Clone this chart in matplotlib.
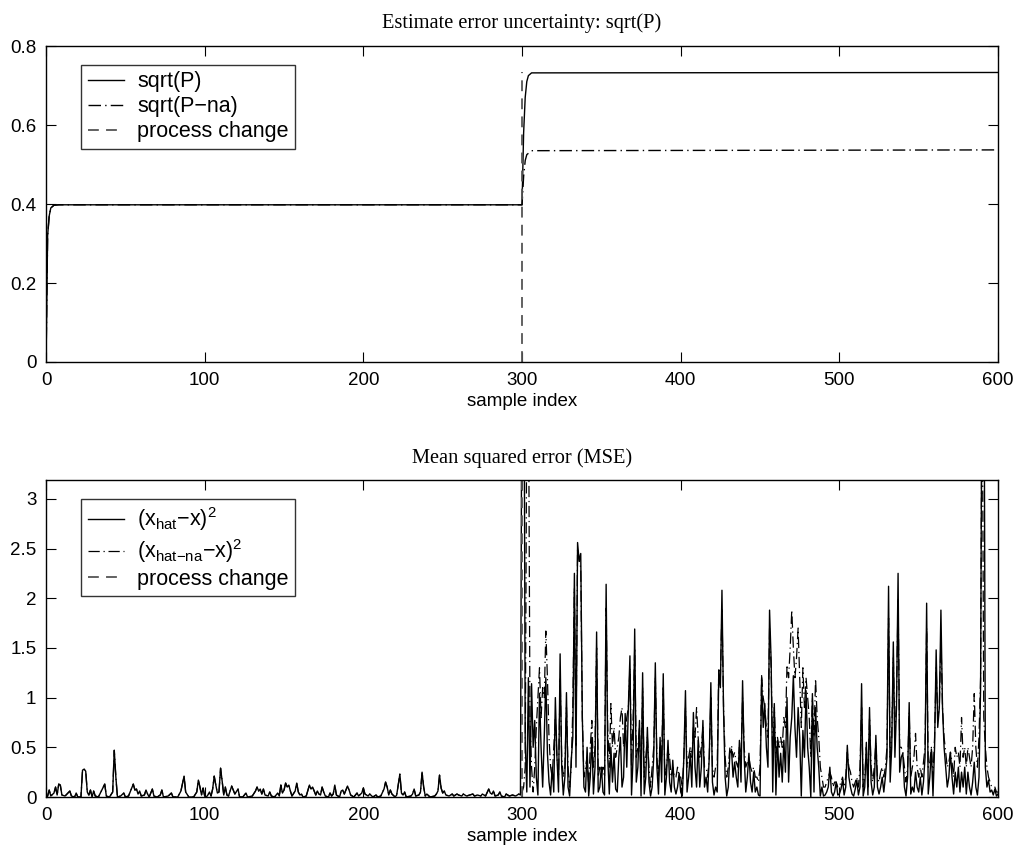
import numpy as np
import matplotlib
matplotlib.use("Agg")
import matplotlib.pyplot as plt

plt.rcParams['font.family'] = ['Liberation Sans', 'DejaVu Sans']
plt.rcParams['mathtext.default'] = 'regular'

# Top panel: sqrt(P) and sqrt(P-na), vertices
p_x = [0, 1, 2, 3, 5, 8, 300, 301, 302, 303, 304, 306, 600]
sqrt_p = [0.0, 0.32, 0.37, 0.39, 0.397, 0.398, 0.398, 0.58, 0.67, 0.71, 0.725, 0.732, 0.733]
pna_x = [0, 1, 2, 3, 5, 8, 300, 301, 302, 303, 306, 600]
sqrt_pna = [0.0, 0.32, 0.37, 0.39, 0.397, 0.398, 0.398, 0.47, 0.51, 0.525, 0.535, 0.537]
change_idx = 300
change_top = [0.735, 6.0]

# Bottom panel, samples 0..299 (both estimators coincide here)
mse_pre = [
    (0, 0), (1, 0.01), (2, 0.07), (3, 0.01), (5, 0.04), (6, 0.1), (7, 0.02), (8, 0.13), (9, 0.12),
    (10, 0.02), (12, 0.01), (15, 0.06), (16, 0.01), (18, 0.0), (19, 0.04), (20, 0.0), (22, 0.0),
    (23, 0.27), (24, 0.28), (25, 0.26), (26, 0.05), (27, 0.02), (28, 0.07), (29, 0.0), (30, 0.06),
    (31, 0.01), (33, 0.0), (37, 0.13), (38, 0.01), (40, 0.0), (42, 0.05), (43, 0.47), (44, 0.2),
    (45, 0.0), (47, 0.01), (49, 0.04), (50, 0.0), (52, 0.01), (55, 0.13), (56, 0.07), (57, 0.08),
    (58, 0.03), (59, 0.06), (60, 0.01), (62, 0.02), (63, 0.07), (64, 0.03), (65, 0.0), (67, 0.08),
    (68, 0.01), (70, 0.0), (72, 0.02), (73, 0.07), (74, 0.0), (77, 0.01), (79, 0.04), (80, 0.0),
    (83, 0.0), (85, 0.06), (87, 0.21), (88, 0.05), (90, 0.0), (93, 0.0), (95, 0.05), (96, 0.17),
    (97, 0.1), (98, 0.02), (99, 0.09), (100, 0.01), (101, 0.0), (102, 0.02), (103, 0.05), (104, 0.01),
    (105, 0.08), (106, 0.21), (107, 0.12), (108, 0.04), (109, 0.05), (110, 0.29), (111, 0.16),
    (112, 0.02), (113, 0.1), (114, 0.02), (115, 0.01), (117, 0.11), (118, 0.07), (119, 0.03),
    (121, 0.08), (122, 0.0), (124, 0.0), (126, 0.04), (127, 0.0), (130, 0.01), (132, 0.06),
    (133, 0.1), (134, 0.06), (135, 0.08), (136, 0.03), (137, 0.08), (138, 0.02), (140, 0.01),
    (141, 0.05), (142, 0.01), (144, 0.0), (146, 0.04), (147, 0.01), (148, 0.12), (149, 0.04),
    (150, 0.07), (151, 0.14), (152, 0.1), (153, 0.12), (154, 0.06), (155, 0.01), (157, 0.06),
    (158, 0.14), (159, 0.05), (160, 0.02), (161, 0.03), (162, 0.0), (164, 0.01), (166, 0.12),
    (167, 0.08), (168, 0.1), (169, 0.06), (170, 0.02), (171, 0.06), (172, 0.03), (173, 0.02),
    (174, 0.1), (175, 0.05), (176, 0.01), (178, 0.0), (179, 0.04), (180, 0.01), (181, 0.03),
    (182, 0.12), (183, 0.02), (185, 0.0), (186, 0.06), (187, 0.07), (188, 0.03), (190, 0.11),
    (191, 0.07), (192, 0.02), (194, 0.0), (196, 0.04), (197, 0.01), (199, 0.04), (200, 0.09),
    (201, 0.03), (203, 0.01), (204, 0.03), (206, 0.0), (208, 0.02), (209, 0.0), (211, 0.01),
    (213, 0.08), (214, 0.15), (215, 0.1), (216, 0.02), (217, 0.07), (218, 0.03), (220, 0.0),
    (221, 0.02), (223, 0.23), (224, 0.04), (225, 0.02), (226, 0.05), (227, 0.0), (230, 0.01),
    (231, 0.03), (232, 0.08), (233, 0.01), (235, 0.02), (236, 0.05), (237, 0.25), (238, 0.1),
    (239, 0.01), (240, 0.03), (242, 0.0), (245, 0.01), (246, 0.03), (247, 0.06), (248, 0.22),
    (249, 0.09), (250, 0.04), (251, 0.06), (252, 0.02), (254, 0.01), (256, 0.03), (257, 0.01),
    (259, 0.03), (260, 0.02), (262, 0.01), (263, 0.03), (265, 0.01), (267, 0.02), (269, 0.03),
    (270, 0.01), (272, 0.02), (274, 0.01), (275, 0.03), (277, 0.01), (279, 0.08), (280, 0.04),
    (281, 0.03), (282, 0.06), (283, 0.01), (285, 0.02), (286, 0.05), (287, 0.01), (289, 0.0),
    (290, 0.03), (292, 0.01), (294, 0.02), (296, 0.01), (298, 0.03), (299, 0.02),
]

# samples 300..600, adaptive estimator (solid)
mse_post = [
    5.0, 6.0, 0.57, 0.05, 1.2, 0.1, 1.14, 0.5, 0.77, 0.2,
    0.02, 1.04, 0.5, 0.1, 0.6, 1.2, 0.44, 0.15, 0.02, 0.3,
    0.05, 1.0, 0.4, 0.05, 1.44, 0.3, 0.02, 0.2, 1.05, 0.1,
    0.01, 0.37, 0.6, 2.25, 0.3, 2.56, 2.37, 2.45, 0.8, 0.1,
    0.05, 0.5, 0.01, 0.2, 0.6, 0.03, 0.3, 1.66, 0.05, 0.1,
    0.3, 0.05, 0.02, 2.14, 0.4, 0.03, 0.5, 0.15, 0.44, 0.08,
    0.05, 0.4, 0.6, 0.1, 0.2, 0.84, 0.3, 0.9, 1.42, 0.02,
    0.4, 1.69, 0.15, 0.3, 0.77, 0.01, 1.25, 0.03, 0.2, 0.7,
    0.15, 0.01, 0.1, 0.4, 1.35, 0.3, 0.03, 0.6, 0.15, 1.24,
    0.02, 0.2, 0.57, 0.15, 0.05, 0.37, 0.1, 0.03, 0.1, 0.24,
    0.05, 0.01, 0.4, 1.07, 0.05, 0.2, 0.44, 0.1, 0.85, 0.3,
    0.1, 0.57, 0.1, 0.3, 0.77, 0.1, 0.2, 0.05, 0.4, 1.15,
    0.15, 0.02, 0.1, 0.05, 1.27, 1.1, 2.08, 0.87, 0.2, 0.01,
    0.1, 0.44, 0.48, 0.2, 0.35, 0.2, 0.1, 0.57, 0.15, 1.17,
    0.4, 0.05, 0.2, 0.44, 0.15, 0.05, 0.25, 0.05, 0.1, 0.02,
    0.01, 1.2, 0.7, 0.94, 0.5, 0.3, 1.88, 1.37, 0.05, 0.94,
    0.02, 0.57, 0.2, 0.44, 0.15, 0.57, 0.25, 1.0, 0.15, 0.6,
    0.8, 1.22, 0.7, 0.4, 0.9, 0.6, 0.01, 0.67, 0.4, 1.07,
    0.5, 0.3, 0.0, 1.04, 0.05, 0.9, 0.5, 0.3, 0.01, 0.1,
    0.01, 0.02, 0.05, 0.1, 0.3, 0.05, 0.01, 0.05, 0.15, 0.02,
    0.03, 0.08, 0.17, 0.02, 0.1, 0.52, 0.2, 0.1, 0.03, 0.01,
    0.08, 0.17, 0.02, 0.1, 1.14, 0.01, 0.1, 0.55, 0.02, 0.9,
    0.15, 0.02, 0.1, 0.62, 0.1, 0.03, 0.1, 0.2, 0.05, 0.2,
    0.4, 2.12, 0.15, 0.5, 1.56, 0.4, 0.9, 2.25, 0.25, 0.4,
    0.44, 0.1, 0.01, 0.2, 0.95, 0.03, 0.1, 0.05, 0.25, 0.1,
    0.05, 0.2, 0.02, 0.15, 0.4, 1.95, 0.03, 0.2, 0.48, 0.01,
    0.5, 1.48, 0.7, 0.9, 1.88, 0.9, 0.5, 0.3, 0.1, 0.2,
    0.45, 0.2, 0.03, 0.25, 0.1, 0.3, 0.05, 0.25, 0.1, 0.3,
    0.03, 0.25, 0.1, 0.02, 0.15, 0.35, 0.1, 0.02, 0.2, 1.1,
    5.0, 5.5, 0.3, 0.1, 0.17, 0.05, 0.07, 0.02, 0.08, 0.01,
    0.03,
]

# samples 300..600, non-adaptive estimator (dash-dot)
mse_na_post = [
    0.05, 0.1, 0.3, 4.0, 4.5, 0.8, 0.3, 0.05, 0.3, 0.7,
    1.0, 1.3, 0.8, 1.1, 1.0, 1.67, 1.2, 0.6, 0.3, 0.2,
    0.5, 0.8, 0.4, 0.2, 1.2, 0.4, 0.2, 0.3, 0.9, 0.3,
    0.1, 0.3, 0.9, 2.1, 0.5, 2.5, 2.4, 2.3, 0.8, 0.2,
    0.3, 0.4, 0.1, 0.5, 0.77, 0.3, 0.5, 1.5, 0.2, 0.3,
    0.2, 0.3, 0.2, 1.9, 0.7, 0.3, 0.94, 0.5, 0.7, 0.4,
    0.5, 0.6, 0.8, 0.9, 0.5, 0.6, 0.8, 0.9, 1.3, 0.3,
    0.8, 1.5, 0.4, 0.5, 0.7, 0.2, 1.1, 0.2, 0.4, 0.6,
    0.3, 0.1, 0.3, 0.5, 1.2, 0.4, 0.2, 0.5, 0.4, 1.1,
    0.2, 0.3, 0.5, 0.4, 0.2, 0.3, 0.2, 0.2, 0.3, 0.2,
    0.2, 0.1, 0.4, 0.9, 0.3, 0.4, 0.5, 0.4, 0.7, 0.6,
    0.9, 0.6, 0.4, 0.5, 0.7, 0.3, 0.3, 0.2, 0.4, 1.0,
    0.3, 0.2, 0.3, 0.3, 1.3, 1.2, 1.9, 0.9, 0.4, 0.2,
    0.3, 0.5, 0.52, 0.4, 0.45, 0.35, 0.3, 0.5, 0.4, 1.0,
    0.5, 0.3, 0.35, 0.4, 0.3, 0.25, 0.3, 0.2, 0.2, 0.15,
    0.3, 1.22, 1.0, 0.9, 0.7, 0.6, 1.7, 1.3, 0.4, 0.9,
    0.4, 0.6, 0.5, 0.6, 0.5, 0.8, 0.7, 1.33, 1.2, 1.5,
    1.88, 1.5, 1.2, 1.4, 1.7, 1.2, 0.7, 1.3, 0.9, 1.2,
    1.0, 0.8, 0.4, 1.0, 0.6, 1.19, 0.8, 0.6, 0.3, 0.2,
    0.1, 0.1, 0.15, 0.2, 0.25, 0.2, 0.1, 0.15, 0.15, 0.1,
    0.1, 0.15, 0.2, 0.1, 0.2, 0.45, 0.3, 0.25, 0.15, 0.1,
    0.15, 0.2, 0.1, 0.3, 0.9, 0.1, 0.2, 0.5, 0.1, 0.8,
    0.3, 0.15, 0.3, 0.55, 0.2, 0.15, 0.25, 0.3, 0.2, 0.3,
    0.5, 1.8, 0.4, 0.6, 1.4, 0.6, 1.0, 2.0, 0.5, 0.5,
    0.45, 0.3, 0.15, 0.3, 0.85, 0.2, 0.3, 0.4, 0.64, 0.3,
    0.2, 0.3, 0.2, 0.35, 0.5, 1.7, 0.3, 0.35, 0.5, 0.2,
    0.6, 1.3, 0.8, 0.9, 1.6, 0.9, 0.6, 0.45, 0.3, 0.35,
    0.45, 0.35, 0.2, 0.5, 0.4, 0.45, 0.3, 0.8, 0.4, 0.5,
    0.3, 0.5, 0.4, 0.3, 0.5, 1.04, 0.5, 0.3, 0.6, 1.2,
    4.5, 0.8, 0.5, 0.3, 0.2, 0.15, 0.1, 0.1, 0.1, 0.05,
    0.05,
]

pre_x = [p[0] for p in mse_pre]
pre_y = [p[1] for p in mse_pre]
post_x = list(np.arange(300, 601))
mse_x = pre_x + post_x
mse = pre_y + mse_post
mse_na = pre_y + mse_na_post

lw = 1.0
dashdot = (0, (9, 3, 1, 3))
fig = plt.figure(figsize=(10.23, 8.57), dpi=100)
ax1 = fig.add_axes([0.045, 0.5776, 0.9306, 0.3687])
ax2 = fig.add_axes([0.045, 0.0700, 0.9306, 0.3700])

ax1.plot(p_x, sqrt_p, color='black', lw=lw, label='sqrt(P)')
ax1.plot(pna_x, sqrt_pna, color='black', lw=lw, ls=dashdot, label='sqrt(P\u2212na)')
ax1.plot([change_idx, change_idx], [0, change_top[0]], color='#555555', lw=1.3, ls=(0, (6, 4)),
         label='process change')
ax1.set_xlim(0, 600)
ax1.set_ylim(0, 0.8)
ax1.set_yticks([0, 0.2, 0.4, 0.6, 0.8])
ax1.set_yticklabels(['0', '0.2', '0.4', '0.6', '0.8'])
ax1.set_title('Estimate error uncertainty: sqrt(P)', family='Liberation Serif', fontsize=14.7, pad=13)

ax2.plot(mse_x, mse, color='black', lw=lw, label='(x$_{hat}$\u2212x)$^2$')
ax2.plot(mse_x, mse_na, color='black', lw=0.9, ls=dashdot, label='(x$_{hat{-}na}$\u2212x)$^2$')
ax2.plot([change_idx, change_idx], [0, change_top[1]], color='#555555', lw=1.3, ls=(0, (6, 4)),
         label='process change')
ax2.set_xlim(0, 600)
ax2.set_ylim(0, 3.19)
ax2.set_yticks([0, 0.5, 1, 1.5, 2, 2.5, 3])
ax2.set_yticklabels(['0', '0.5', '1', '1.5', '2', '2.5', '3'])
ax2.set_title('Mean squared error (MSE)', family='Liberation Serif', fontsize=14.7, pad=12)

for ax in (ax1, ax2):
    ax.set_xticks([0, 100, 200, 300, 400, 500, 600])
    ax.set_xlabel('sample index', fontsize=13.5, labelpad=3)
    ax.tick_params(direction='in', length=7, width=0.8, top=True, right=True, labelsize=13.5, pad=7)
    for s in ax.spines.values():
        s.set_linewidth(1.0)
    leg = ax.legend(loc='upper left', bbox_to_anchor=(0.037, 0.94), fontsize=15.5, frameon=True,
                    fancybox=False, edgecolor='black', handlelength=1.7, borderpad=0.3,
                    labelspacing=0.18, handletextpad=0.6, borderaxespad=0)
    leg.get_frame().set_linewidth(1.0)

fig.savefig('out.png', dpi=100, facecolor='white')
